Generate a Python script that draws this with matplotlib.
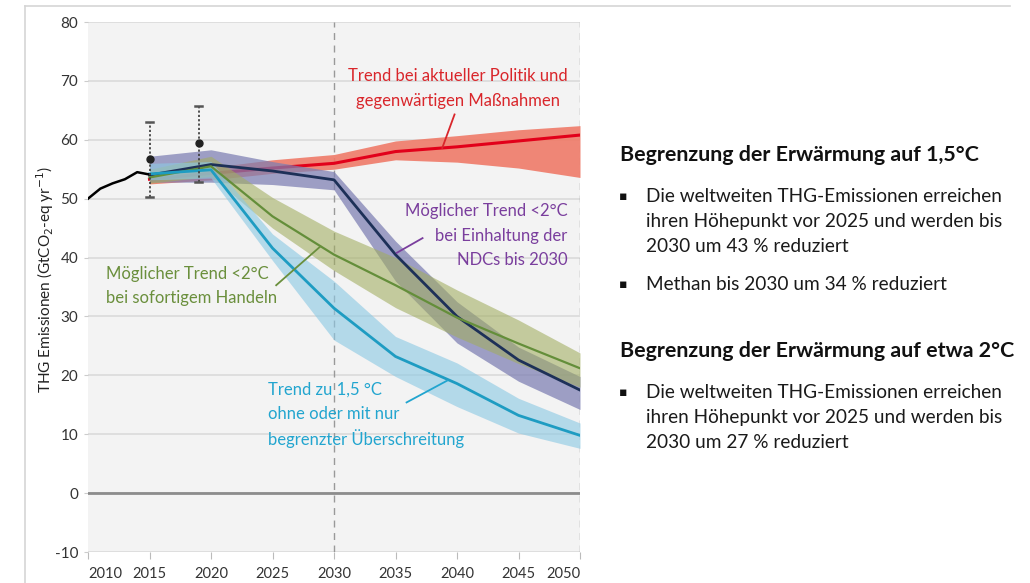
import matplotlib
matplotlib.use("Agg")
import matplotlib.pyplot as plt
from matplotlib.lines import Line2D

plt.rcParams['font.family'] = ['Lato', 'DejaVu Sans']

# ---------------- data ----------------
hist_years = [2010, 2011, 2012, 2013, 2014, 2015]
hist_vals = [50.0, 51.7, 52.6, 53.3, 54.5, 54.1]

err_years = [2015, 2019]
err_mid = [56.7, 59.5]
err_low = [50.2, 52.8]
err_high = [63.0, 65.8]

scen_years = [2015, 2020, 2025, 2030, 2035, 2040, 2045, 2050]

red_mid = [53.3, 54.3, 55.2, 56.0, 58.0, 58.8, 59.8, 60.8]
red_low = [52.5, 53.2, 54.3, 55.0, 56.6, 56.2, 55.2, 53.6]
red_high = [54.0, 55.3, 56.6, 57.5, 59.8, 60.7, 61.7, 62.4]

navy_mid = [54.0, 55.8, 54.7, 53.2, 40.5, 30.0, 22.6, 17.5]
navy_low = [52.8, 52.8, 52.4, 51.5, 36.0, 25.5, 19.0, 14.2]
navy_high = [57.2, 58.3, 56.3, 54.6, 42.8, 32.5, 24.8, 19.8]

green_mid = [53.6, 55.5, 47.0, 40.5, 35.3, 29.8, 25.4, 21.2]
green_low = [52.6, 53.8, 45.0, 37.8, 31.5, 26.5, 22.0, 18.0]
green_high = [55.0, 57.2, 50.2, 44.5, 40.0, 34.5, 29.4, 23.8]

cyan_mid = [54.2, 54.9, 41.6, 31.4, 23.2, 18.6, 13.2, 9.8]
cyan_low = [53.2, 53.5, 39.5, 26.0, 19.8, 14.7, 10.2, 7.6]
cyan_high = [56.0, 56.3, 44.0, 36.0, 26.6, 22.1, 16.1, 11.9]

x_ticks = [2010, 2015, 2020, 2025, 2030, 2035, 2040, 2045, 2050]
y_ticks = [-10, 0, 10, 20, 30, 40, 50, 60, 70, 80]

red_label = ['Trend bei aktueller Politik und', 'gegenwärtigen Maßnahmen']
purple_label = ['Möglicher Trend <2°C', 'bei Einhaltung der', 'NDCs bis 2030']
green_label = ['Möglicher Trend <2°C', 'bei sofortigem Handeln']
cyan_label = ['Trend zu 1,5 °C', 'ohne oder mit nur', 'begrenzter Überschreitung']

heading1 = 'Begrenzung der Erwärmung auf 1,5°C'
heading2 = 'Begrenzung der Erwärmung auf etwa 2°C'
bullets1 = [['Die weltweiten THG-Emissionen erreichen',
             'ihren Höhepunkt vor 2025 und werden bis',
             '2030 um 43 % reduziert'],
            ['Methan bis 2030 um 34 % reduziert']]
bullets2 = [['Die weltweiten THG-Emissionen erreichen',
             'ihren Höhepunkt vor 2025 und werden bis',
             '2030 um 27 % reduziert']]

# ---------------- figure ----------------
W, H = 1030, 583
fig = plt.figure(figsize=(W / 100, H / 100), dpi=100)
fig.patch.set_facecolor('white')

def fx(px):
    return px / W

def fy(py):
    return 1 - py / H

ax = fig.add_axes([fx(88), fy(552), fx(580) - fx(88), fy(22) - fy(552)])
ax.set_facecolor('#f3f3f3')
ax.set_xlim(2010, 2050)
ax.set_ylim(-10, 80)
for s in ax.spines.values():
    s.set_visible(False)

ax.set_yticks(y_ticks)
ax.set_xticks(x_ticks)
ax.set_yticklabels([str(v) for v in y_ticks], fontsize=11, color='#333333')
xtl = ax.set_xticklabels([str(v) for v in x_ticks], fontsize=10.5, color='#333333')
xtl[0].set_ha('left')
xtl[-1].set_ha('right')
ax.tick_params(axis='y', length=3, color='#cccccc', pad=4)
ax.tick_params(axis='x', length=5, color='#bbbbbb', pad=6)
ax.grid(axis='y', color='#dcdcdc', lw=1.3, zorder=0)
ax.set_axisbelow(True)
ax.axhline(0, color='#8c8c8c', lw=2, zorder=1)
for xv in (2030, 2050):
    ax.axvline(xv, color='#999999', lw=1, ls=(0, (5, 4)), zorder=1.5)

ax.set_ylabel('THG Emissionen (GtCO$_2$-eq yr$^{-1}$)', fontsize=11, color='#222222')
ax.yaxis.set_label_coords(-0.066, 0.515)

# bands and medians
ax.fill_between(scen_years, red_low, red_high, color='#ef7a68', alpha=0.9, lw=0, zorder=2)
ax.plot(scen_years, red_mid, color='#e2001a', lw=2.2, zorder=2.05)
ax.fill_between(scen_years, navy_low, navy_high, color='#7c7eb2', alpha=0.72, lw=0, zorder=2.1)
ax.fill_between(scen_years, green_low, green_high, color='#a1ad5f', alpha=0.58, lw=0, zorder=2.2)
ax.fill_between(scen_years, cyan_low, cyan_high, color='#8dc9e4', alpha=0.62, lw=0, zorder=2.3)

ax.plot(scen_years, navy_mid, color='#1d3058', lw=2.0, zorder=3.1)
ax.plot(scen_years, green_mid, color='#648e3a', lw=1.6, zorder=3.2)
ax.plot(scen_years, cyan_mid, color='#1e9cc2', lw=2.0, zorder=3.3)

# historical
ax.plot(hist_years, hist_vals, color='black', lw=1.8, zorder=3.5)

# error bars
for xv, m, lo, hi in zip(err_years, err_mid, err_low, err_high):
    ax.plot([xv, xv], [lo, hi], color='#444444', lw=1.3, ls=(0, (1.2, 1.2)), zorder=4)
    ax.plot([xv - 0.3, xv + 0.3], [lo, lo], color='#555555', lw=1.8, zorder=4)
    ax.plot([xv - 0.3, xv + 0.3], [hi, hi], color='#555555', lw=1.8, zorder=4)
    ax.plot([xv], [m], 'o', color='#222222', ms=5, zorder=4.1)

# scenario labels
red_c = '#d9262b'
purple_c = '#7a3e9d'
green_c = '#6a8f3c'
cyan_c = '#22a5cf'
lab_fs = 12

def put_lines(lines, x, ys, ha, color):
    for txt, yv in zip(lines, ys):
        ax.text(x, yv, txt, ha=ha, va='center', color=color, fontsize=lab_fs, zorder=5)

put_lines(red_label, 2040.1, [70.9, 66.65], 'center', red_c)
ax.plot([2039.8, 2038.8], [64.3, 58.6], color=red_c, lw=1.3, zorder=5)

put_lines(purple_label, 2049.0, [47.9, 43.7, 39.6], 'right', purple_c)
ax.plot([2037.2, 2035.1], [43.3, 40.8], color=purple_c, lw=1.3, zorder=5)

put_lines(green_label, 2011.5, [37.2, 33.1], 'left', green_c)
ax.plot([2025.3, 2028.9], [35.3, 41.9], color=green_c, lw=1.3, zorder=5)

put_lines(cyan_label, 2024.6, [17.5, 13.4, 9.3], 'left', cyan_c)
ax.plot([2035.9, 2039.2], [15.4, 19.1], color=cyan_c, lw=1.3, zorder=5)

# frame lines of the panel
fig.add_artist(Line2D([fx(25), fx(1010)], [fy(6), fy(6)], color='#d5d5d5', lw=1.2))
fig.add_artist(Line2D([fx(25), fx(25)], [fy(6), fy(583)], color='#d5d5d5', lw=1.2))

# right hand text
head_fs = 15.4
body_fs = 13.7

def block(heading, y_head, bullets, y_first):
    fig.text(fx(620), fy(y_head), heading, fontsize=head_fs, fontweight='bold',
             ha='left', va='center', color='#111111')
    yy = y_first
    for item in bullets:
        fig.text(fx(619), fy(yy), '▪', fontsize=9, ha='left', va='center',
                 color='#111111', family=['DejaVu Sans'])
        for line in item:
            fig.text(fx(646), fy(yy), line, fontsize=body_fs, ha='left', va='center',
                     color='#1a1a1a')
            yy += 25.5
        yy += 11.5

block(heading1, 155, bullets1, 196)
block(heading2, 351, bullets2, 392)

fig.savefig('out.png', dpi=100, facecolor='white')
